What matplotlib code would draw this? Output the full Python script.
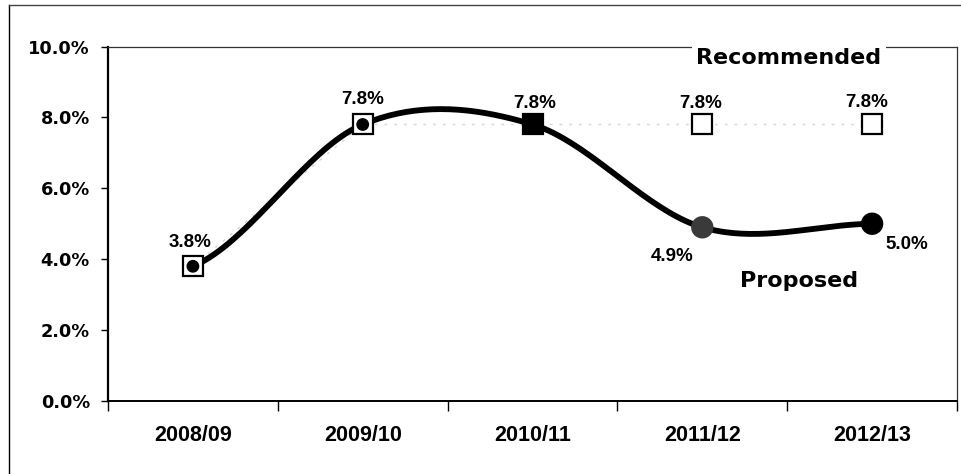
import numpy as np
import matplotlib
matplotlib.use("Agg")
import matplotlib.pyplot as plt
from matplotlib.lines import Line2D

# ---- data ----
categories = ["2008/09", "2009/10", "2010/11", "2011/12", "2012/13"]
recommended = [3.8, 7.8, 7.8, 7.8, 7.8]
proposed = [3.8, 7.8, 7.8, 4.9, 5.0]
y_ticks = [0, 2, 4, 6, 8, 10]
y_tick_labels = ["0.0%", "2.0%", "4.0%", "6.0%", "8.0%", "10.0%"]

W, H, DPI = 962, 474, 100
fig = plt.figure(figsize=(W / DPI, H / DPI), dpi=DPI)
fig.patch.set_facecolor("white")
ax = fig.add_axes([108 / W, 1 - 401 / H, (957 - 108) / W, (401 - 46.5) / H])

x = np.arange(len(categories))


def catmull_rom(xs, ys, n=40):
    xs = np.asarray(xs, float)
    ys = np.asarray(ys, float)
    px = np.concatenate([[2 * xs[0] - xs[1]], xs, [2 * xs[-1] - xs[-2]]])
    py = np.concatenate([[ys[0]], ys, [ys[-1]]])
    out_x, out_y = [], []
    t = np.linspace(0, 1, n)
    for i in range(1, len(px) - 2):
        p0, p1, p2, p3 = px[i - 1], px[i], px[i + 1], px[i + 2]
        q0, q1, q2, q3 = py[i - 1], py[i], py[i + 1], py[i + 2]
        m1x, m2x = (p2 - p0) / 2, (p3 - p1) / 2
        m1y, m2y = (q2 - q0) / 2, (q3 - q1) / 2
        h00 = 2 * t**3 - 3 * t**2 + 1
        h10 = t**3 - 2 * t**2 + t
        h01 = -2 * t**3 + 3 * t**2
        h11 = t**3 - t**2
        out_x.append(h00 * p1 + h10 * m1x + h01 * p2 + h11 * m2x)
        out_y.append(h00 * q1 + h10 * m1y + h01 * q2 + h11 * m2y)
    return np.concatenate(out_x), np.concatenate(out_y)


# faint recommended line
ax.plot(x, recommended, color="#d4d4d4", lw=1, ls=(0, (2, 5)), zorder=1)

# proposed smooth line
sx, sy = catmull_rom(x, proposed)
ax.plot(sx, sy, color="black", lw=4.2, solid_capstyle="round", zorder=2)

# recommended squares
sq_face = ["white", "white", "black", "white", "white"]
for xi, yi, fc in zip(x, recommended, sq_face):
    ax.plot(xi, yi, marker="s", ms=15, mfc=fc, mec="black", mew=1.6, zorder=3)

# proposed circles
circ_size = [85, 85, 85, 260, 260]
circ_col = ["black", "black", "black", "#3a3a3a", "black"]
ax.scatter(x, proposed, s=circ_size, c=circ_col, marker="o", zorder=4, linewidths=0)

# data labels
lab_font = dict(family=["Liberation Sans", "DejaVu Sans"], fontweight="bold", fontsize=13.5)
rec_offsets = [(-3, 24), (0, 25), (2, 21), (-2, 21), (-5, 22)]
for i, (xi, yi) in enumerate(zip(x, recommended)):
    if i == 0:
        continue
    dx, dy = rec_offsets[i]
    ax.annotate(f"{yi:.1f}%", (xi, yi), xytext=(dx, dy), textcoords="offset pixels",
                ha="center", va="center", zorder=6, **lab_font)
prop_offsets = [(-3, 24), None, None, (-30, -29), (35, -21)]
for i, (xi, yi) in enumerate(zip(x, proposed)):
    off = prop_offsets[i]
    if off is None:
        continue
    ax.annotate(f"{yi:.1f}%", (xi, yi), xytext=off, textcoords="offset pixels",
                ha="center", va="center", zorder=6, **lab_font)

# series name labels
name_font = dict(family=["DejaVu Sans"], fontweight="bold", fontsize=16)
ax.text((789 - 108) / (957 - 108), 1 - (58 - 46.5) / (401 - 46.5), "Recommended",
        transform=ax.transAxes, ha="center", va="center", zorder=7, clip_on=False,
        bbox=dict(facecolor="white", edgecolor="none", pad=3), **name_font)
ax.text((799 - 108) / (957 - 108), 1 - (281 - 46.5) / (401 - 46.5), "Proposed",
        transform=ax.transAxes, ha="center", va="center", zorder=7, **name_font)

# axes
ax.set_xlim(-0.5, len(categories) - 0.5)
ax.set_ylim(0, 10)
ax.set_yticks(y_ticks)
ax.set_yticklabels(y_tick_labels, fontfamily="DejaVu Sans", fontweight="bold", fontsize=12.8)
ax.tick_params(axis="y", direction="out", length=5, width=1, pad=8)

ax.set_xticks(np.arange(-0.5, len(categories), 1.0))
ax.set_xticklabels([])
ax.set_xticks(x, minor=True)
ax.set_xticklabels(categories, minor=True,
                   fontfamily=["Liberation Sans", "DejaVu Sans"],
                   fontweight="bold", fontsize=15.5)
ax.tick_params(axis="x", which="major", direction="out", length=7, width=1)
ax.tick_params(axis="x", which="minor", length=0, pad=17)

for s in ["top", "right"]:
    ax.spines[s].set_linewidth(0.9)
    ax.spines[s].set_color("#333333")
ax.spines["left"].set_linewidth(1.6)
ax.spines["bottom"].set_linewidth(1.4)

# outer frame (partial)
fig.add_artist(Line2D([9 / W, 9 / W], [0, 1 - 5 / H], transform=fig.transFigure,
                      color="black", lw=1))
fig.add_artist(Line2D([9 / W, 1], [1 - 5 / H, 1 - 5 / H], transform=fig.transFigure,
                      color="#444444", lw=1))

fig.savefig("out.png", dpi=DPI)
